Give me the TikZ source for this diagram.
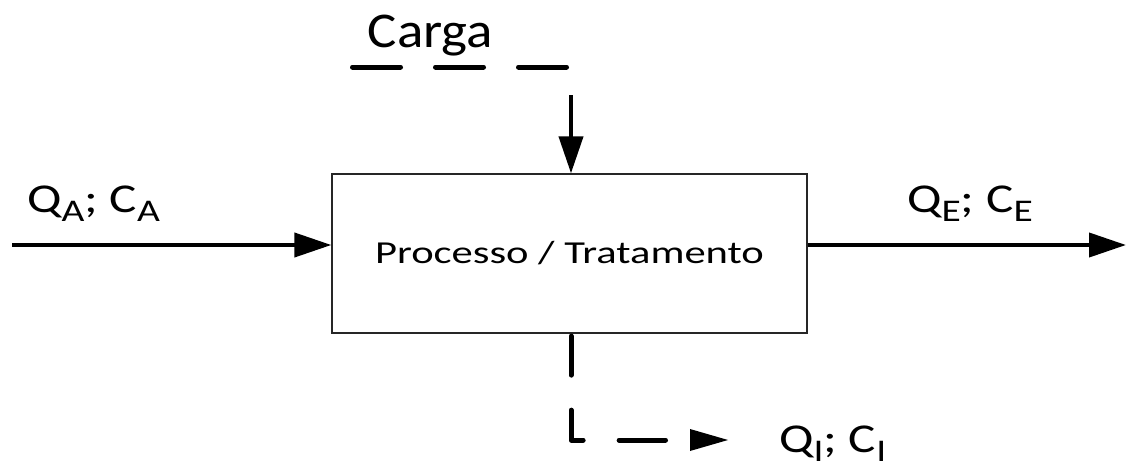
\documentclass[tikz,border=0pt]{standalone}
\usepackage{fontspec}
\usepackage{graphicx}
\setmainfont{Carlito}
\usetikzlibrary{arrows.meta}
% lowered, reduced subscript in the label font
\newcommand\lowsub[1]{\raisebox{-0.23em}{\scalebox{0.77}{#1}}}
% horizontally widened text
\newcommand\widetext[2]{\scalebox{#1}[1]{#2}}
\begin{document}
\begin{tikzpicture}[x=1pt,y=-1pt,
  flow/.style={line width=4pt,-{Triangle[length=37pt,width=24pt]}},
  dashline/.style={line width=5pt,line cap=round,dash pattern=on 48pt off 35pt},
  dashflow/.style={line width=5pt,line cap=round,line join=round,
    dash pattern=on 39pt off 35pt on 42pt off 36pt on 47pt off 40pt},
  lbl/.style={anchor=base west,inner sep=0pt,font=\fontsize{41}{48}\selectfont},
  procbox/.style={draw=black!85,line width=1.3pt,minimum width=475pt,minimum height=159pt,
    font=\fontsize{32}{38}\selectfont}]
\useasboundingbox (0,0) rectangle (1128,471);

% process block
\node[procbox] (proc) at (569.5,253.5) {\widetext{1.33}{Processo / Tratamento}};

% inflow and outflow
\coordinate (in) at (12,245);
\coordinate (out) at (1126,245);
\node[lbl] (qa) at (27,212) {\widetext{1.25}{Q\lowsub{A}; C\lowsub{A}}};
\node[lbl] (qe) at (907,212) {\widetext{1.25}{Q\lowsub{E}; C\lowsub{E}}};
\draw[flow] (in) -- (in -| proc.west);
\draw[flow] (out -| proc.east) -- (out);

% load entering from above
\node[anchor=base,inner sep=0pt,font=\fontsize{50}{58}\selectfont] (carga) at (430.5,47) {\widetext{1.1}{Carga}};
\coordinate (d1) at (352.5,67);
\coordinate (d2) at (569.5,67);
\draw[dashline] (d1) -- (d2);
\coordinate (ctop) at (571,95);
\draw[flow] (ctop) -- (ctop |- proc.north);

% side stream leaving below
\coordinate (corner) at (571,440);
\coordinate (dend) at (665.5,440);
\coordinate (tip) at (728,440);
\draw[dashflow] (corner |- proc.south) ++(0,2.5) -- (corner) -- (dend);
\fill (tip) -- ++(-38,-11) -- ++(0,22) -- cycle;
\node[lbl] (qi) at (779,452) {\widetext{1.25}{Q\lowsub{I}; C\lowsub{I}}};
\end{tikzpicture}
\end{document}
